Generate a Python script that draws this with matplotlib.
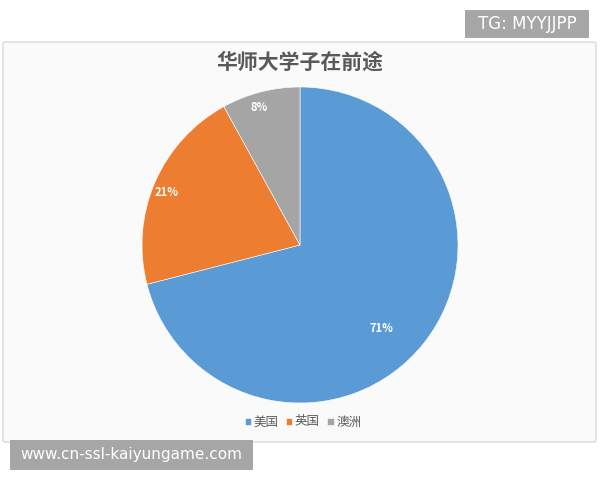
import matplotlib
matplotlib.use("Agg")
import matplotlib.pyplot as plt
import matplotlib.patches as patches
import numpy as np

plt.rcParams['font.family'] = ['Noto Sans CJK SC', 'DejaVu Sans']

labels = ['美国', '英国', '澳洲']
values = [71, 21, 8]
colors = ['#5B9BD5', '#ED7D31', '#A5A5A5']
title = '华师大学子在前途'

W, H = 600, 480
fig = plt.figure(figsize=(6, 4.8), dpi=100)
fig.patch.set_facecolor('white')

# chart panel (behind the pie)
panel = patches.FancyBboxPatch((3 / W, 1 - 442 / H), 593 / W, 400 / H,
                               boxstyle='round,pad=0,rounding_size=0.004',
                               transform=fig.transFigure, facecolor='#FAFAFA',
                               edgecolor='#D9D9D9', linewidth=1.0, zorder=-10)
fig.patches.append(panel)

fig.text(300 / W, 1 - 62 / H, title, ha='center', va='center',
         fontsize=15, fontweight='bold', color='#595959')

# pie: center (300,245), radius 158 px
r = 158
ax = fig.add_axes([(300 - r) / W, 1 - (245 + r) / H, 2 * r / W, 2 * r / H])
ax.patch.set_visible(False)
wedges, texts, autotexts = ax.pie(values, colors=colors, startangle=90, counterclock=False,
                                  autopct='%d%%', pctdistance=0.8,
                                  wedgeprops=dict(edgecolor='white', linewidth=0.4),
                                  textprops=dict(color='white', fontsize=8, fontweight='bold'))
# excel-like label placement
label_dist = [0.74, 0.91, 0.91]
label_turn = [-8, 2, 2]
for w, t, d, a in zip(wedges, autotexts, label_dist, label_turn):
    mid = np.deg2rad((w.theta1 + w.theta2) / 2 + a)
    t.set_position((d * np.cos(mid), d * np.sin(mid)))
ax.set_aspect('equal')
ax.set_xlim(-1, 1)
ax.set_ylim(-1, 1)

# legend
fig.legend(wedges, labels, loc='center', bbox_to_anchor=(303 / W, 1 - 422 / H),
           ncol=3, frameon=False, fontsize=9, handlelength=0.5, handleheight=0.5,
           handletextpad=0.2, columnspacing=0.6, labelcolor='#595959')

# watermark boxes
fig.patches.append(patches.Rectangle((465 / W, 1 - 38 / H), 124 / W, 28 / H,
                                     transform=fig.transFigure, facecolor='#A6A6A6', edgecolor='none'))
fig.text(527 / W, 1 - 24 / H, 'TG: MYYJJPP', ha='center', va='center',
         fontsize=12, color='white', family=['DejaVu Sans'])
fig.patches.append(patches.Rectangle((10 / W, 1 - 470 / H), 243 / W, 30 / H,
                                     transform=fig.transFigure, facecolor='#A6A6A6', edgecolor='none'))
fig.text(131 / W, 1 - 455 / H, 'www.cn-ssl-kaiyungame.com', ha='center', va='center',
         fontsize=11, color='white', family=['DejaVu Sans'])

fig.savefig('out.png', dpi=100)
